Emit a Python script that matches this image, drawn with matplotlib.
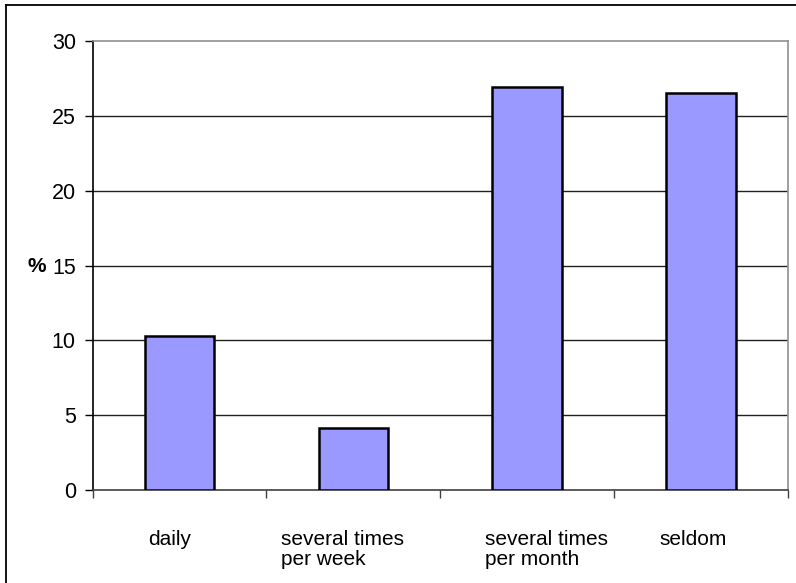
import matplotlib
matplotlib.use("Agg")
import matplotlib.pyplot as plt
from matplotlib.lines import Line2D
import matplotlib.transforms as mtransforms

categories = ["daily", "several times\nper week", "several times\nper month", "seldom"]
values = [10.3, 4.15, 26.95, 26.5]
yticks = [0, 5, 10, 15, 20, 25, 30]

plt.rcParams['font.family'] = ['Liberation Sans', 'DejaVu Sans']

fig = plt.figure(figsize=(7.96, 5.83), dpi=100)
W, H = 796, 583
ax = fig.add_axes([92.5 / W, 1 - 490 / H, (788 - 92.5) / W, (490 - 41) / H])

x = list(range(len(categories)))
ax.bar(x, values, width=0.40, color="#9999FF", edgecolor="black", linewidth=1.8, zorder=3)

ax.set_xlim(-0.5, len(categories) - 0.5)
ax.set_ylim(0, 30)
ax.set_yticks(yticks)
ax.set_yticklabels([str(t) for t in yticks], fontsize=15.5)
ax.tick_params(axis='y', direction='out', length=6, width=1, color='black', pad=6)

ax.set_xticks([i - 0.5 for i in range(len(categories) + 1)])
ax.set_xticklabels([])
ax.tick_params(axis='x', direction='out', length=6, width=1, color='#404040')

for t in yticks[1:-1]:
    ax.axhline(t, color='#202020', linewidth=1.0, zorder=1)

ax.spines['left'].set_color('black')
ax.spines['left'].set_linewidth(1.2)
ax.spines['bottom'].set_color('#404040')
ax.spines['bottom'].set_linewidth(1.2)
ax.spines['top'].set_color('#909090')
ax.spines['top'].set_linewidth(1.2)
ax.spines['right'].set_color('#909090')
ax.spines['right'].set_linewidth(1.2)

# category labels (left-aligned blocks)
label_offsets_px = [-31, -72, -42, -42]
base = mtransforms.blended_transform_factory(ax.transData, ax.transAxes)
for i, (lab, off) in enumerate(zip(categories, label_offsets_px)):
    tr = base + mtransforms.ScaledTranslation(off / 100, -40 / 100, fig.dpi_scale_trans)
    ax.text(i, 0, lab, transform=tr, ha='left', va='top', fontsize=15,
            multialignment='left', linespacing=1.08)

# y-axis label
fig.text(27 / W, 1 - 266 / H, "%", fontsize=15, fontweight='bold', ha='left', va='center')

# outer border (left and top visible)
fig.add_artist(Line2D([6 / W, 6 / W], [0, 1 - 5 / H], transform=fig.transFigure, color='black', linewidth=1.3))
fig.add_artist(Line2D([6 / W, 1], [1 - 5 / H, 1 - 5 / H], transform=fig.transFigure, color='black', linewidth=1.3))

fig.savefig("out.png", dpi=100)
